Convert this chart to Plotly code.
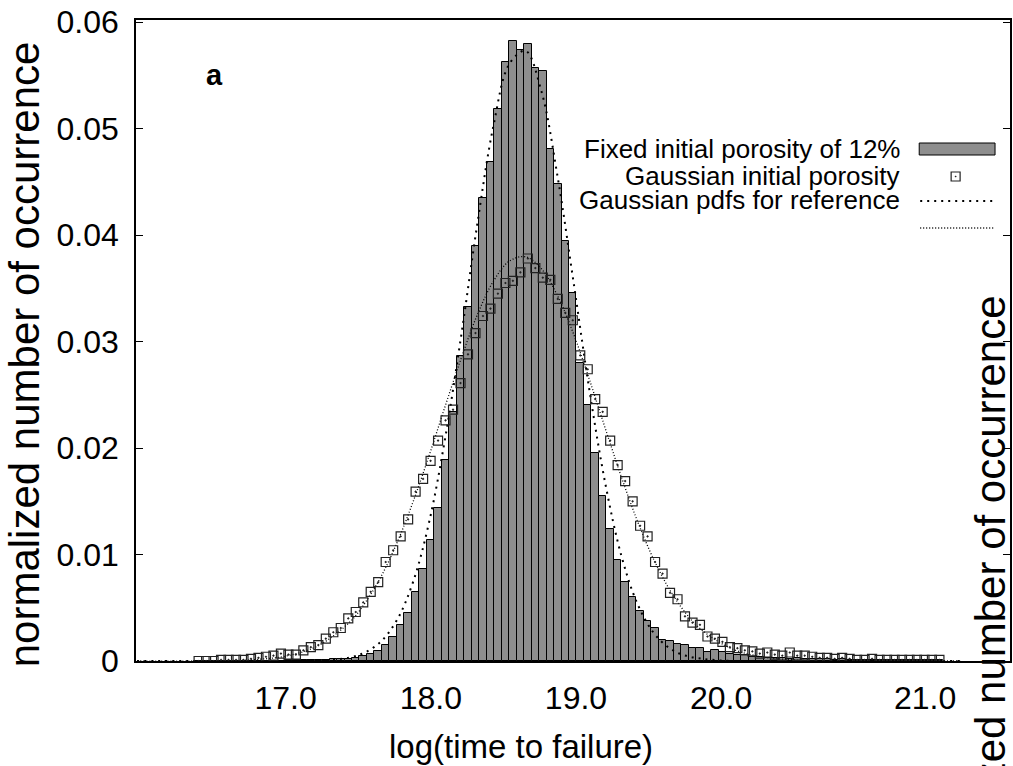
import numpy as np
import plotly.graph_objects as go

# ---------------- data ----------------
N_BINS = 100
FIRST_CENTER = 16.4003      # centre of first histogram bin, log(time to failure)
BIN_WIDTH = 0.05155

# Fixed initial porosity of 12% (grey histogram), bins 0..99
fixed_porosity = [
    0, 0, 0, 0, 0, 0, 0, 0, 0, 0,
    0, 0, 0.00005, 0.00005, 0.0001, 0.0001, 0.0001, 0.0001, 0.0002, 0.0002,
    0.0002, 0.0003, 0.0005, 0.0007, 0.0009, 0.0015, 0.0023, 0.0034, 0.0045, 0.0065,
    0.0086, 0.0114, 0.0144, 0.0189, 0.0234, 0.0286, 0.0332, 0.0390, 0.0435, 0.0469,
    0.0518, 0.0563, 0.0582, 0.0574, 0.0579, 0.0557, 0.0554, 0.0481, 0.0448, 0.0394,
    0.0346, 0.0280, 0.0240, 0.0195, 0.0155, 0.0124, 0.0095, 0.0074, 0.0060, 0.0047,
    0.0038, 0.0031, 0.0020, 0.0019, 0.0016, 0.0015, 0.0012, 0.0012, 0.0008, 0.0010,
    0.0008, 0.0007, 0.0006, 0.0006, 0.0004, 0.0004, 0.0003, 0.0003, 0.0003, 0.0002,
    0.0003, 0.0002, 0.0002, 0.0002, 0.0002, 0.0001, 0.0002, 0.0001, 0.0001, 0.0001,
    0.0001, 0.0001, 0.0001, 0.0001, 0.0001, 0.0001, 0.0001, 0.0001, 0.0001, 0.0001,
]

# Gaussian initial porosity (open squares), bins 0..99
gaussian_porosity = [
    0.0000, 0.0000, 0.0000, 0.0001, 0.0001, 0.0001, 0.0001, 0.0002, 0.0003, 0.0004,
    0.0005, 0.0007, 0.0006, 0.0006, 0.0010, 0.0013, 0.0015, 0.0021, 0.0027, 0.0031,
    0.0040, 0.0046, 0.0055, 0.0065, 0.0074, 0.0093, 0.0104, 0.0117, 0.0133, 0.0159,
    0.0171, 0.0188, 0.0207, 0.0226, 0.0236, 0.0261, 0.0288, 0.0308, 0.0324, 0.0331,
    0.0345, 0.0355, 0.0357, 0.0365, 0.0378, 0.0369, 0.0360, 0.0358, 0.0340, 0.0327,
    0.0320, 0.0287, 0.0274, 0.0246, 0.0234, 0.0207, 0.0184, 0.0169, 0.0150, 0.0127,
    0.0117, 0.0093, 0.0082, 0.0064, 0.0058, 0.0042, 0.0036, 0.0034, 0.0023, 0.0021,
    0.0018, 0.0013, 0.0012, 0.0010, 0.0009, 0.0007, 0.0008, 0.0006, 0.0005, 0.0008,
    0.0005, 0.0005, 0.0004, 0.0003, 0.0003, 0.0002, 0.0003, 0.0002, 0.0001, 0.0001,
    0.0002, 0.0001, 0.0001, 0.0001, 0.0001, 0.0001, 0.0001, 0.0001, 0.0001, 0.0001,
]

# Reference Gaussian pdf for the fixed porosity case (dashed)
ref_fixed_x = [15.976, 17.0, 17.220, 17.441, 17.551, 17.661, 17.771, 17.881, 17.991,
               18.101, 18.212, 18.322, 18.432, 18.542, 18.652, 18.762, 18.872, 18.983,
               19.093, 19.203, 19.313, 19.423, 19.533, 19.643, 19.753, 19.974, 20.304,
               21.648]
ref_fixed_y = [0, 0.0, 0.00004, 0.00033, 0.00083, 0.00189, 0.00395, 0.00755, 0.0132,
               0.0211, 0.0308, 0.0412, 0.0503, 0.0561, 0.0573, 0.0535, 0.0456, 0.0356,
               0.0254, 0.0166, 0.00987, 0.00538, 0.00268, 0.00122, 0.00051, 0.00007,
               0, 0]

# Reference Gaussian pdf for the Gaussian porosity case (dotted)
ref_gauss_x = [15.976, 16.449, 16.780, 17.0, 17.220, 17.441, 17.551, 17.661, 17.771,
               17.881, 17.991, 18.101, 18.212, 18.322, 18.432, 18.542, 18.652, 18.762,
               18.872, 18.983, 19.093, 19.203, 19.313, 19.423, 19.533, 19.643, 19.753,
               19.864, 20.084, 20.304, 20.524, 20.855, 21.648]
ref_gauss_y = [0, 0.00001, 0.00013, 0.00046, 0.00141, 0.00365, 0.00553, 0.00803, 0.01123,
               0.01507, 0.01941, 0.02402, 0.02854, 0.03257, 0.03569, 0.03756, 0.03796,
               0.03684, 0.03433, 0.03073, 0.02641, 0.0218, 0.01728, 0.01315, 0.00961,
               0.00675, 0.00455, 0.00294, 0.00109, 0.00035, 0.00009, 0.00001, 0]

# tick labels as printed (the last label sits further right in the reference)
x_ticks = [17.0, 18.0, 19.0, 20.0, 21.405]
x_tick_text = ["17.0", "18.0", "19.0", "20.0", "21.0"]
y_ticks = [0, 0.01, 0.02, 0.03, 0.04, 0.05, 0.06]
y_tick_text = ["0", "0.01", "0.02", "0.03", "0.04", "0.05", "0.06"]

legend_labels = ["Fixed initial porosity of 12%", "Gaussian initial porosity",
                 "Gaussian pdfs for reference"]

# ---------------- figure ----------------
FONT = "Liberation Sans, Arial, Helvetica, sans-serif"
bin_centers = FIRST_CENTER + BIN_WIDTH * np.arange(N_BINS)

fig = go.Figure()
fig.add_trace(go.Bar(
    x=bin_centers, y=fixed_porosity, width=BIN_WIDTH,
    marker=dict(color="#8e8e8e", line=dict(color="black", width=1)),
    showlegend=False, name=legend_labels[0]))
fig.add_trace(go.Scatter(
    x=ref_fixed_x, y=ref_fixed_y, mode="lines", line_shape="spline",
    line=dict(color="black", width=2, dash="2px,5px"), showlegend=False,
    name=legend_labels[2]))
fig.add_trace(go.Scatter(
    x=ref_gauss_x, y=ref_gauss_y, mode="lines", line_shape="spline",
    line=dict(color="black", width=1.3, dash="1px,2px"), showlegend=False))
fig.add_trace(go.Scatter(
    x=bin_centers, y=gaussian_porosity, mode="markers",
    marker=dict(symbol="square-open-dot", size=9, color="#222222",
                line=dict(width=1.2, color="#222222")),
    showlegend=False, name=legend_labels[1]))

# page body margin is removed (post_script), so layout is in screen pixels
W, H = 1013, 766
L, T = 136, 20
R = W - 1012
B = H - 661
PW = W - L - R
PH = H - T - B


def px(xs):
    return (xs - L) / PW


def py(ys):
    return (H - B - ys) / PH


fig.update_layout(
    width=W, height=H,
    margin=dict(l=L, r=R, t=T, b=B),
    paper_bgcolor="white", plot_bgcolor="white",
    bargap=0,
    font=dict(family=FONT, size=31, color="black"),
    xaxis=dict(range=[15.969, 21.990], tickvals=x_ticks, ticktext=x_tick_text,
               showgrid=False, zeroline=False, showline=True, linecolor="black",
               linewidth=1.5, mirror=True, ticks="", ticklabelstandoff=8,
               tickfont=dict(size=32)),
    yaxis=dict(range=[0, 0.0602], tickvals=y_ticks, ticktext=y_tick_text,
               showgrid=False, zeroline=False, showline=True, linecolor="black",
               linewidth=1.5, mirror="ticks", ticks="inside", ticklen=7,
               tickcolor="black", ticklabelstandoff=9, tickfont=dict(size=32)),
)

ann = []
ann.append(dict(text="log(time to failure)", xref="paper", yref="paper",
                x=px(522), y=py(747), xanchor="center", yanchor="middle",
                showarrow=False, font=dict(size=33)))
ann.append(dict(text="normalized number of occurrence", xref="paper", yref="paper",
                x=px(24), y=py(354), xanchor="center", yanchor="middle",
                textangle=-90, showarrow=False, font=dict(size=42)))
ann.append(dict(text="normalized number of occurrence", xref="paper", yref="paper",
                x=px(992), y=py(293), xanchor="center", yanchor="top",
                textangle=-90, showarrow=False, font=dict(size=42)))
ann.append(dict(text="<b>a</b>", xref="paper", yref="paper",
                x=px(215), y=py(75), xanchor="center", yanchor="middle",
                showarrow=False, font=dict(size=29)))
for lbl, yy in zip(legend_labels, [149, 176, 200]):
    ann.append(dict(text=lbl, xref="paper", yref="paper", x=px(904), y=py(yy),
                    xanchor="right", yanchor="middle", showarrow=False,
                    font=dict(size=26)))
fig.update_layout(annotations=ann)

shapes = [
    dict(type="rect", xref="paper", yref="paper", x0=px(921), x1=px(997),
         y0=py(155), y1=py(143), fillcolor="#8e8e8e",
         line=dict(color="black", width=1)),
    dict(type="rect", xref="paper", yref="paper", x0=px(953), x1=px(962),
         y0=py(181), y1=py(172), fillcolor="rgba(0,0,0,0)",
         line=dict(color="#222222", width=1.2)),
    dict(type="rect", xref="paper", yref="paper", x0=px(957), x1=px(958),
         y0=py(177), y1=py(176), fillcolor="#222222",
         line=dict(color="#222222", width=0.5)),
    dict(type="line", xref="paper", yref="paper", x0=px(922), x1=px(995),
         y0=py(201), y1=py(201), line=dict(color="black", width=2, dash="2px,5px")),
    dict(type="line", xref="paper", yref="paper", x0=px(922), x1=px(997),
         y0=py(228), y1=py(228), line=dict(color="black", width=1.3, dash="1px,2px")),
]
fig.update_layout(shapes=shapes)

fig.write_html("out.html",
               config={"displayModeBar": False},
               post_script="document.body.style.margin='0';"
                           "document.body.style.overflow='hidden';")
